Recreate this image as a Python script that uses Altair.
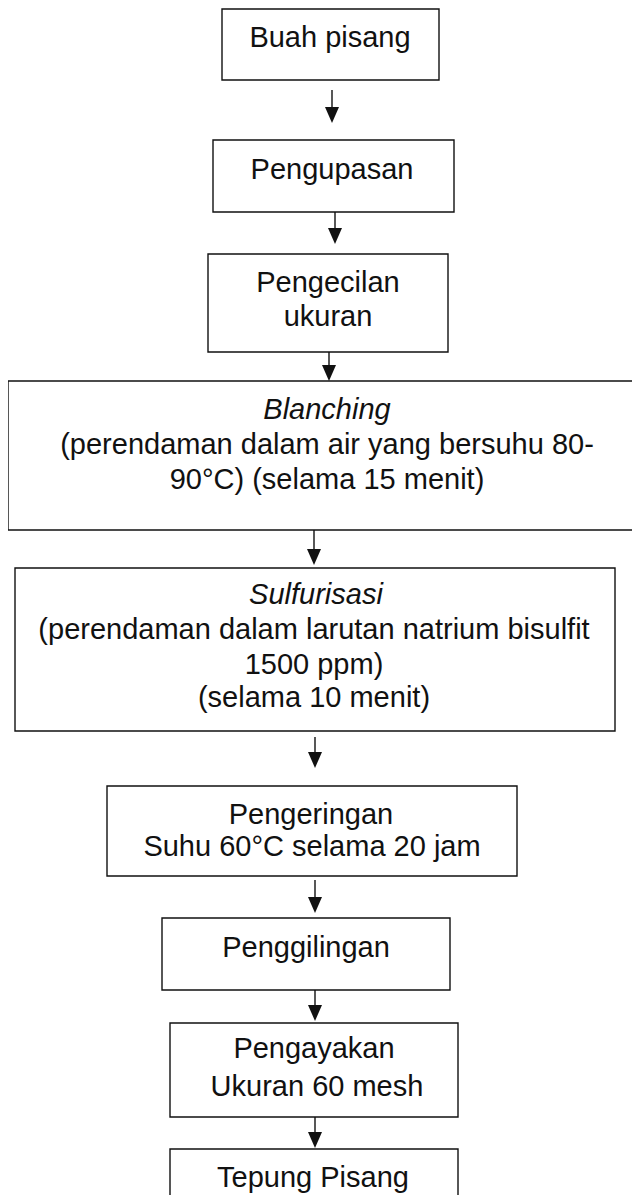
import altair as alt
import pandas as pd

# Flowchart steps (boxes), in page pixel units
box_x1 = [222, 213, 208, 8, 15, 107, 162, 170, 170]
box_x2 = [439, 454, 448, 647, 615, 517, 450, 458, 458]
box_y1 = [9, 140, 254, 381, 568, 786, 918, 1023, 1149]
box_y2 = [80, 212, 352, 530, 731, 876, 990, 1117, 1240]

# Arrows between steps
arrow_x = [332, 335, 329, 314, 315, 315, 315, 315]
arrow_top = [90, 212, 352, 530, 737, 880, 990, 1117]
arrow_tip = [123, 244, 381, 565, 768, 913, 1021, 1148]

# Text lines
line_text = [
    "Buah pisang",
    "Pengupasan",
    "Pengecilan",
    "ukuran",
    "Blanching",
    "(perendaman dalam air yang bersuhu 80-",
    "90°C) (selama 15 menit)",
    "Sulfurisasi",
    "(perendaman dalam larutan natrium bisulfit",
    "1500 ppm)",
    "(selama 10 menit)",
    "Pengeringan",
    "Suhu 60°C selama 20 jam",
    "Penggilingan",
    "Pengayakan",
    "Ukuran 60 mesh",
    "Tepung Pisang",
]
line_x = [330, 332, 328, 328, 327, 327, 327, 316, 314, 314, 314, 311, 312, 306, 314, 317, 313]
line_y = [38, 170, 283, 317, 410, 445, 480, 595, 630, 665, 698, 815, 847, 948, 1049, 1087, 1178]
line_italic = [False, False, False, False, True, False, False, True, False, False, False,
               False, False, False, False, False, False]

FONT = "Liberation Sans"
FS = 29

boxes = pd.DataFrame({"x1": box_x1, "x2": box_x2, "y1": box_y1, "y2": box_y2})
arrows = pd.DataFrame({"x": arrow_x, "top": arrow_top, "tip": arrow_tip})
arrows["shaft_end"] = arrows["tip"] - 14
arrows["head_c"] = arrows["tip"] - 8
texts = pd.DataFrame({"t": line_text, "x": line_x, "y": line_y, "it": line_italic})

xs = alt.Scale(domain=[8, 632], nice=False, zero=False)
ys = alt.Scale(domain=[8, 1195], nice=False, zero=False, reverse=True)

box_layer = alt.Chart(boxes).mark_rect(
    fill="white", stroke="#111111", strokeWidth=1.4, clip=True
).encode(
    x=alt.X("x1:Q", scale=xs, axis=None),
    x2="x2:Q",
    y=alt.Y("y1:Q", scale=ys, axis=None),
    y2="y2:Q",
)

shaft = alt.Chart(arrows).mark_rule(color="#111111", strokeWidth=1.4, clip=True).encode(
    x=alt.X("x:Q", scale=xs, axis=None),
    y=alt.Y("top:Q", scale=ys, axis=None),
    y2="shaft_end:Q",
)

head = alt.Chart(arrows).mark_point(
    shape="M-1,-1.15L1,-1.15L0,1.15Z", filled=True, color="#111111",
    opacity=1, size=196, strokeWidth=0, clip=True
).encode(
    x=alt.X("x:Q", scale=xs, axis=None),
    y=alt.Y("head_c:Q", scale=ys, axis=None),
)

normal = alt.Chart(texts[~texts["it"]]).mark_text(
    font=FONT, fontSize=FS, color="#111111", align="center", baseline="middle"
).encode(
    x=alt.X("x:Q", scale=xs, axis=None),
    y=alt.Y("y:Q", scale=ys, axis=None),
    text="t:N",
)

italic = alt.Chart(texts[texts["it"]]).mark_text(
    font=FONT, fontSize=FS, fontStyle="italic", color="#111111", align="center", baseline="middle"
).encode(
    x=alt.X("x:Q", scale=xs, axis=None),
    y=alt.Y("y:Q", scale=ys, axis=None),
    text="t:N",
)

chart = alt.layer(box_layer, shaft, head, normal, italic).properties(
    width=624, height=1187, padding=0,
    autosize=alt.AutoSizeParams(type="none"),
    background="white",
).configure_view(stroke=None)

chart.save("out.html", embed_options={"renderer": "svg", "actions": False})
